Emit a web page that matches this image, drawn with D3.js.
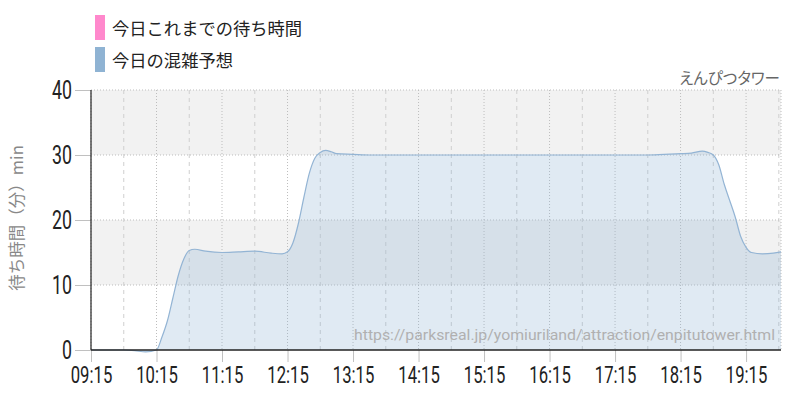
<!DOCTYPE html>
<html><head><meta charset="utf-8">
<script src="https://cdn.jsdelivr.net/npm/d3@7/dist/d3.min.js"></script>
<style>body{margin:0;background:#fff}svg{display:block}.palt{font-feature-settings:"palt" 1}</style>
</head><body>
<svg id="c" width="800" height="400"></svg>
<script>
const times = ["09:15","09:30","09:45","09:55","10:05","10:15","10:20","10:25","10:30","10:35","10:40","10:45","10:50","11:00","11:15","11:30","11:45","12:00","12:10","12:15","12:20","12:25","12:30","12:35","12:40","12:45","12:50","12:55","13:00","13:15","13:30","14:00","15:00","16:00","17:00","17:45","18:00","18:15","18:25","18:35","18:40","18:45","18:50","18:55","19:00","19:05","19:10","19:15","19:20","19:30","19:40","19:47"];
const waits = [0,0,0,-0.1,-0.3,0,2,4.5,8,11.5,14,15.3,15.5,15.2,15.0,15.1,15.2,14.9,14.8,15.1,16.5,19.5,23.5,27.2,29.5,30.4,30.7,30.5,30.2,30.1,30.0,30.0,30.0,30.0,30.0,30.0,30.1,30.2,30.3,30.6,30.4,30.0,28.5,25.5,23,20.5,17.5,15.8,15.0,14.8,14.9,15.1];
const xTicks = ["09:15","10:15","11:15","12:15","13:15","14:15","15:15","16:15","17:15","18:15","19:15"];
const xHalf = ["09:45","10:45","11:45","12:45","13:45","14:45","15:45","16:45","17:45","18:45","19:45"];
const yTicks = [0,10,20,30,40];
const legendLabels = ["今日これまでの待ち時間","今日の混雑予想"];
const legendColors = ["#ff88cc","#8fb3d3"];
const title = "えんぴつタワー";
const yTitle = "待ち時間（分）min";
const url = "https://parksreal.jp/yomiuriland/attraction/enpitutower.html";

const parse = d3.timeParse("%H:%M");
const svg = d3.select("#c");
const L=91,R=781,T=90,B=350;
const x = d3.scaleTime().domain([parse("09:15"),parse("19:47")]).range([L,R]);
const y = d3.scaleLinear().domain([0,40]).range([B,T]);
const data = times.map((t,i)=>({t:parse(t),v:waits[i]}));

// bands
[[10,20],[30,40]].forEach(b=>{
  svg.append("rect").attr("x",L).attr("width",R-L).attr("y",y(b[1])).attr("height",y(b[0])-y(b[1])).attr("fill","#f2f2f2");
});
// vertical grid
xHalf.forEach(t=>{
  const xx=x(parse(t)); if(xx>R) return;
  svg.append("line").attr("x1",xx).attr("x2",xx).attr("y1",T).attr("y2",B).attr("stroke","#cfcfcf").attr("stroke-dasharray","4,4");
});
xTicks.forEach(t=>{
  const xx=x(parse(t));
  svg.append("line").attr("x1",xx).attr("x2",xx).attr("y1",T).attr("y2",B).attr("stroke","#bdbdbd").attr("stroke-dasharray","1,2");
});
// horizontal grid
yTicks.slice(1).forEach(v=>{
  svg.append("line").attr("x1",L).attr("x2",R).attr("y1",y(v)).attr("y2",y(v)).attr("stroke","#bdbdbd").attr("stroke-dasharray","1,2");
});
svg.append("line").attr("x1",R).attr("x2",R).attr("y1",T).attr("y2",B).attr("stroke","#bdbdbd").attr("stroke-dasharray","1,2");

// area
const area = d3.area().x(d=>x(d.t)).y0(y(0)).y1(d=>y(d.v)).curve(d3.curveMonotoneX);
const line = d3.line().x(d=>x(d.t)).y(d=>y(d.v)).curve(d3.curveMonotoneX);
svg.append("path").datum(data).attr("d",area).attr("fill","#8fb3d3").attr("fill-opacity",0.28);
svg.append("path").datum(data).attr("d",line).attr("fill","none").attr("stroke","#93b4d4").attr("stroke-width",1.2);

// watermark
svg.append("text").attr("x",775).attr("y",340).attr("text-anchor","end").attr("font-family","Roboto").attr("font-size",15.5)
  .attr("fill","#b0b0b0").attr("textLength",421).attr("lengthAdjust","spacingAndGlyphs").text(url);

// axes
const yAxis = d3.axisLeft(y).tickValues(yTicks).tickSize(16).tickPadding(3);
const gy = svg.append("g").attr("transform",`translate(${L},0)`).call(yAxis);
gy.select(".domain").remove();
gy.selectAll(".tick line").attr("stroke","#c0c0c0");
gy.selectAll(".tick text").attr("font-family","Roboto").attr("font-size",25).attr("fill","#222")
  .attr("dy",null).attr("dominant-baseline","central")
  .attr("transform",function(){const xx=+d3.select(this).attr("x");return `translate(${xx},0) scale(0.71,1)`;}).attr("x",0);

const xAxis = d3.axisBottom(x).tickValues(xTicks.map(parse)).tickFormat(d3.timeFormat("%H:%M")).tickSize(12).tickPadding(4);
const gx = svg.append("g").attr("transform",`translate(0,${B})`).call(xAxis);
gx.select(".domain").remove();
gx.selectAll(".tick line").attr("stroke","#c0c0c0");
gx.selectAll(".tick text").attr("font-family","Roboto").attr("font-size",23.5).attr("fill","#222")
  .attr("dy","0.71em").attr("transform",function(){const yy=+d3.select(this).attr("y");return `translate(0,${yy}) scale(0.71,1)`;}).attr("y",0);

svg.append("line").attr("x1",L).attr("x2",R).attr("y1",B).attr("y2",B).attr("stroke","#222").attr("stroke-width",1.5);
svg.append("line").attr("x1",L).attr("x2",L).attr("y1",T).attr("y2",B).attr("stroke","#222").attr("stroke-width",1.2);

// y title
svg.append("text").attr("transform","translate(23,218) rotate(-90)").attr("text-anchor","middle")
  .attr("font-family","Noto Sans CJK JP").attr("font-size",16.5).attr("fill","#888").text(yTitle);

// title right
svg.append("text").attr("class","palt").attr("x",780).attr("y",84).attr("text-anchor","end").attr("font-family","Noto Sans CJK JP")
  .attr("font-size",15.5).attr("fill","#666").text(title);

// legend
legendLabels.forEach((lab,i)=>{
  const yy = 15 + i*32;
  svg.append("rect").attr("x",95).attr("y",yy).attr("width",10).attr("height",25).attr("fill",legendColors[i]);
  svg.append("text").attr("x",112).attr("y",yy+12.5).attr("dominant-baseline","central").attr("font-family","Noto Sans CJK JP")
    .attr("font-size",17.3).attr("fill","#222").text(lab);
});
</script>
</body></html>
